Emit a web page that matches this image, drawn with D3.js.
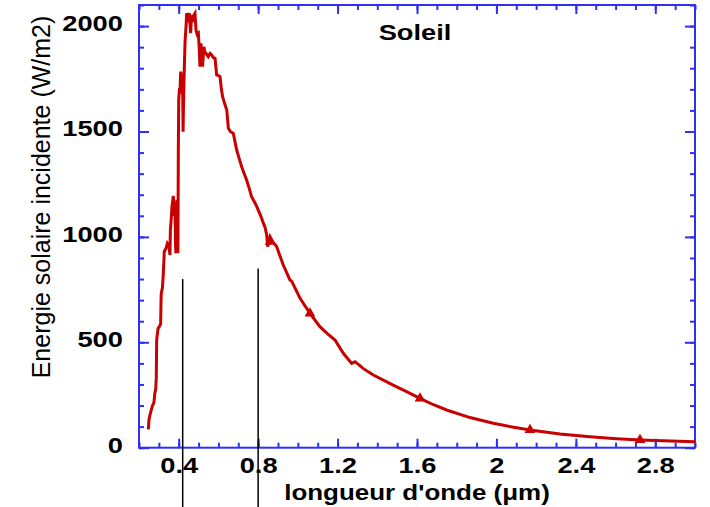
<!DOCTYPE html>
<html>
<head>
<meta charset="utf-8">
<script src="https://cdn.jsdelivr.net/npm/d3@7"></script>
<style>
  body { margin: 0; background: #fff; }
  text { font-family: "Liberation Sans", Arial, sans-serif; }
</style>
</head>
<body>
<div id="chart"></div>
<script>

// spectre solaire (longueur d'onde en um, energie en W/m2)
var wavelength = [0.247, 0.250, 0.255, 0.262, 0.268, 0.275, 0.280, 0.284, 0.287, 0.289,
  0.296, 0.303, 0.309, 0.311, 0.312, 0.318, 0.322, 0.326, 0.327, 0.336,
  0.343, 0.350, 0.356, 0.358, 0.362, 0.366, 0.373, 0.377, 0.381, 0.384,
  0.386, 0.388, 0.391, 0.393, 0.396, 0.398, 0.400, 0.404, 0.406, 0.410,
  0.416, 0.420, 0.422, 0.424, 0.428, 0.432, 0.437, 0.440, 0.447, 0.453,
  0.460, 0.465, 0.472, 0.478, 0.482, 0.487, 0.493, 0.499, 0.504, 0.507,
  0.512, 0.516, 0.520, 0.527, 0.532, 0.537, 0.549, 0.558, 0.566, 0.575,
  0.583, 0.591, 0.600, 0.608, 0.615, 0.621, 0.632, 0.642, 0.650, 0.660,
  0.675, 0.692, 0.705, 0.717, 0.730, 0.742, 0.755, 0.767, 0.776, 0.790,
  0.800, 0.815, 0.826, 0.834, 0.843, 0.848, 0.855, 0.860, 0.875, 0.893,
  0.925, 0.960, 0.969, 1.011, 1.061, 1.111, 1.150, 1.187, 1.229, 1.271,
  1.288, 1.330, 1.380, 1.480, 1.550, 1.615, 1.680, 1.749, 1.867, 1.984,
  2.080, 2.169, 2.320, 2.471, 2.605, 2.723, 2.840, 3.000];

var energie = [87, 130, 155, 179, 200, 213, 260, 277, 330, 511,
  566, 575, 587, 700, 732, 760, 819, 900, 930, 946,
  970, 960, 914, 1033, 1080, 1143, 1194, 1100, 1147, 960,
  922, 1150, 1175, 940, 924, 1400, 1649, 1705, 1680, 1784,
  1744, 1700, 1499, 1618, 1800, 1926, 2000, 2061, 2040, 2061,
  1966, 2053, 2020, 2055, 2061, 1982, 1960, 1966, 1880, 1807,
  1918, 1880, 1807, 1902, 1870, 1871, 1855, 1870, 1863, 1850,
  1847, 1768, 1765, 1760, 1700, 1665, 1630, 1602, 1515, 1500,
  1491, 1412, 1370, 1333, 1300, 1270, 1230, 1191, 1175, 1150,
  1128, 1095, 1065, 1048, 1010, 954, 985, 1001, 975, 954,
  870, 796, 790, 709, 637, 574, 540, 511, 448, 400,
  408, 375, 345, 297, 265, 234, 205, 179, 143, 116,
  98, 84, 65, 52, 43, 37, 33, 28];

// marqueurs triangulaires sur la courbe
var markerX = [0.86, 1.061, 1.615, 2.169, 2.723];
var markerY = [977, 637, 234, 84, 37];

// limites du visible (traits noirs)
var limitX = [0.42, 0.8];
var limitTop = [800, 850];

var xTicks = [0.4, 0.8, 1.2, 1.6, 2, 2.4, 2.8];
var yTicks = [0, 500, 1000, 1500, 2000];

var width = 710, height = 507;
var blue = "#2f2ff5", red = "#c80000";
var stretch = 1.24;

var svg = d3.select("#chart").append("svg")
  .attr("width", width)
  .attr("height", height);

var x = d3.scaleLinear().domain([0.2, 3.0]).range([139, 695]);
var y = d3.scaleLinear().domain([0, 2100]).range([447.7, 5]);

var xMinor = x.ticks(28);
var yMinor = y.ticks(21);

function styleAxis(g) {
  g.select(".domain").remove();
  g.selectAll(".tick line").attr("stroke", blue).attr("stroke-width", 2);
}

// bas
svg.append("g")
  .attr("transform", "translate(0,447.7)")
  .call(d3.axisBottom(x).tickValues(xMinor).tickSize(-5).tickFormat(""))
  .call(styleAxis);
var bottom = svg.append("g")
  .attr("transform", "translate(0,447.7)")
  .call(d3.axisBottom(x).tickValues(xTicks).tickSize(-9).tickPadding(10).tickFormat(function(d) { return d; }))
  .call(styleAxis);
bottom.selectAll("text")
  .attr("fill", "#000")
  .style("font-size", "22px")
  .style("font-weight", "bold")
  .attr("transform", "scale(" + stretch + ",1)");

// haut
svg.append("g")
  .attr("transform", "translate(0,5)")
  .call(d3.axisTop(x).tickValues(xMinor).tickSize(-5).tickFormat(""))
  .call(styleAxis);
svg.append("g")
  .attr("transform", "translate(0,5)")
  .call(d3.axisTop(x).tickValues(xTicks).tickSize(-9).tickFormat(""))
  .call(styleAxis);

// gauche
svg.append("g")
  .attr("transform", "translate(139,0)")
  .call(d3.axisLeft(y).tickValues(yMinor).tickSize(-5).tickFormat(""))
  .call(styleAxis);
var left = svg.append("g")
  .attr("transform", "translate(139,0)")
  .call(d3.axisLeft(y).tickValues(yTicks).tickSize(-10).tickPadding(13).tickFormat(function(d) { return d; }))
  .call(styleAxis);
left.selectAll("text")
  .attr("fill", "#000")
  .attr("dy", "0.2em")
  .style("font-size", "22px")
  .style("font-weight", "bold")
  .attr("transform", "scale(" + stretch + ",1)");

// droite
svg.append("g")
  .attr("transform", "translate(695,0)")
  .call(d3.axisRight(y).tickValues(yMinor).tickSize(-5).tickFormat(""))
  .call(styleAxis);
svg.append("g")
  .attr("transform", "translate(695,0)")
  .call(d3.axisRight(y).tickValues(yTicks).tickSize(-10).tickFormat(""))
  .call(styleAxis);

// cadre
svg.append("rect")
  .attr("x", x(0.2)).attr("y", y(2100))
  .attr("width", x(3.0) - x(0.2))
  .attr("height", y(0) - y(2100))
  .attr("fill", "none")
  .attr("stroke", blue)
  .attr("stroke-width", 2);

// traits noirs
svg.selectAll(".limit")
  .data(limitX)
  .enter().append("line")
  .attr("class", "limit")
  .attr("x1", function(d) { return x(d); })
  .attr("x2", function(d) { return x(d); })
  .attr("y1", function(d, i) { return y(limitTop[i]); })
  .attr("y2", height)
  .attr("stroke", "#000")
  .attr("stroke-width", 1.5);

// courbe
var points = wavelength.map(function(w, i) { return [w, energie[i]]; });
var line = d3.line()
  .x(function(d) { return x(d[0]); })
  .y(function(d) { return y(d[1]); });

svg.append("path")
  .datum(points)
  .attr("d", line)
  .attr("fill", "none")
  .attr("stroke", red)
  .attr("stroke-width", 3)
  .attr("stroke-linejoin", "miter");

svg.selectAll(".marker")
  .data(markerX)
  .enter().append("path")
  .attr("class", "marker")
  .attr("d", d3.symbol().type(d3.symbolTriangle).size(50))
  .attr("transform", function(d, i) { return "translate(" + x(d) + "," + y(markerY[i]) + ")"; })
  .attr("fill", red);

// textes
svg.append("text")
  .attr("transform", "translate(50,197) rotate(-90)")
  .attr("text-anchor", "middle")
  .style("font-size", "25px")
  .text("Energie solaire incidente (W/m2)");

svg.append("text")
  .attr("transform", "translate(417,500) scale(1.18,1)")
  .attr("text-anchor", "middle")
  .style("font-size", "22px")
  .style("font-weight", "bold")
  .text("longueur d'onde (\u03bcm)");

svg.append("text")
  .attr("transform", "translate(415,40) scale(" + stretch + ",1)")
  .attr("text-anchor", "middle")
  .style("font-size", "22px")
  .style("font-weight", "bold")
  .text("Soleil");

</script>
</body>
</html>
